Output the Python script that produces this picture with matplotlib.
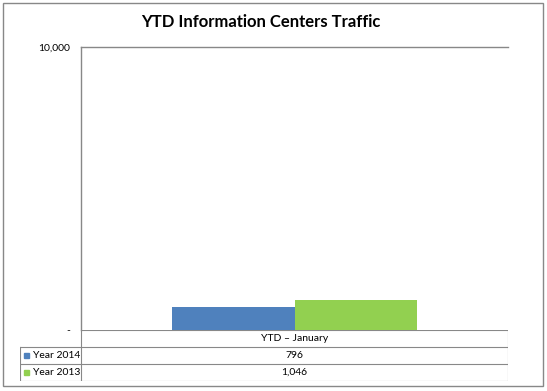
import matplotlib
matplotlib.use("Agg")
import matplotlib.pyplot as plt
from matplotlib.patches import Rectangle

plt.rcParams["font.family"] = ["Lato", "DejaVu Sans"]

category = "YTD – January"
series = ["Year 2014", "Year 2013"]
values = [796, 1046]
value_labels = ["796", "1,046"]
colors = ["#4F81BD", "#92D050"]
yticks = [0, 10000]
ytick_labels = ["-", "10,000"]

W, H = 547, 391
fig = plt.figure(figsize=(W / 100, H / 100), dpi=100)
grid = "#888888"

def px(x0, y0, x1, y1):
    # pixel box (top-left origin) -> figure fraction
    return [x0 / W, 1 - y1 / H, (x1 - x0) / W, (y1 - y0) / H]

# outer chart border
fig.patches.append(Rectangle((3 / W, 1 - 386 / H), 540 / W, 383 / H, transform=fig.transFigure,
                             fill=False, edgecolor=grid, lw=1))

fig.text(0.5 * (141 + 380) / W, 1 - 22 / H, "YTD Information Centers Traffic",
         ha="center", va="center", fontsize=12, fontweight="bold")

ax = fig.add_axes(px(81, 47, 508, 330))
bw = 0.286
for i, (v, c) in enumerate(zip(values, colors)):
    ax.bar(0 + (i - 0.5) * bw, v, width=bw, color=c, align="center")
ax.set_xlim(-0.5, 0.5)
ax.set_ylim(0, 10000)
ax.set_yticks(yticks)
ax.set_yticklabels(ytick_labels, fontsize=7.5)
ax.tick_params(axis="y", length=0, pad=8)
ax.set_xticks([])
for s in ["right", "bottom"]:
    ax.spines[s].set_visible(False)
for s in ["left", "top"]:
    ax.spines[s].set_color(grid)
    ax.spines[s].set_linewidth(1)

# data table under the chart
tx = fig.add_axes(px(20, 330, 508, 381))
tx.set_xlim(20, 508)
tx.set_ylim(381, 330)
tx.axis("off")
rows_y = [330, 347, 364, 381]
lc = dict(color=grid, lw=0.8)
tx.plot([81, 508], [330, 330], **lc)
for y in rows_y[1:]:
    tx.plot([20, 508], [y, y], **lc)
tx.plot([81, 81], [330, 381], **lc)
tx.plot([508, 508], [330, 381], **lc)
tx.plot([20, 20], [347, 381], **lc)
mid = (81 + 508) / 2
tx.text(mid, 338.5, category, ha="center", va="center", fontsize=7.5)
for i, (name, lab, c) in enumerate(zip(series, value_labels, colors)):
    yc = (rows_y[i + 1] + rows_y[i + 2]) / 2
    tx.add_patch(Rectangle((24, yc - 2.5), 5, 5, color=c))
    tx.text(33, yc, name, ha="left", va="center", fontsize=7.5)
    tx.text(mid, yc, lab, ha="center", va="center", fontsize=7.5)

fig.savefig("out.png", dpi=100)
